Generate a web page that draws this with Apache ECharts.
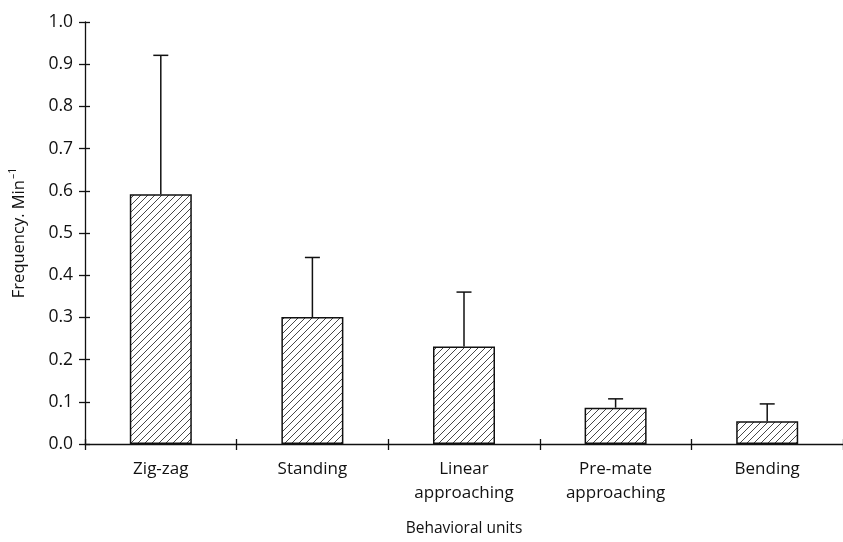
<!DOCTYPE html>
<html>
<head>
<meta charset="utf-8">
<script src="https://cdn.jsdelivr.net/npm/echarts@6/dist/echarts.min.js"></script>
<style>
html,body{margin:0;padding:0;background:#fff;}
#main{width:843px;height:542px;}
</style>
</head>
<body>
<div id="main"></div>
<script>
const categories = ['Zig-zag', 'Standing', 'Linear\napproaching', 'Pre-mate\napproaching', 'Bending'];
const means = [0.592, 0.301, 0.231, 0.086, 0.054];
const sds = [0.329, 0.141, 0.129, 0.021, 0.041];
const yTicks = [0.0, 0.1, 0.2, 0.3, 0.4, 0.5, 0.6, 0.7, 0.8, 0.9, 1.0];

function hatch() {
  const s = 7;
  const c = document.createElement('canvas');
  c.width = s; c.height = s;
  const g = c.getContext('2d');
  g.fillStyle = '#fff';
  g.fillRect(0, 0, s, s);
  g.strokeStyle = '#333';
  g.lineWidth = 0.9;
  g.beginPath();
  g.moveTo(-1, s + 1); g.lineTo(s + 1, -1);
  g.moveTo(-1, 1); g.lineTo(1, -1);
  g.moveTo(s - 1, s + 1); g.lineTo(s + 1, s - 1);
  g.stroke();
  return c;
}

const font = 'Open Sans';
const chart = echarts.init(document.getElementById('main'), null, {renderer: 'canvas'});
const axisLineStyle = {color: '#111', width: 1.3};
chart.setOption({
  animation: false,
  grid: {left: 83, right: -7, top: 22, bottom: 94.5},
  xAxis: [{
    type: 'category',
    data: categories,
    boundaryGap: true,
    axisLine: {lineStyle: axisLineStyle},
    axisTick: {show: true, length: 6, lineStyle: axisLineStyle},
    axisLabel: {color: '#111', fontFamily: font, fontSize: 17, lineHeight: 24, margin: 13, interval: 0},
    name: 'Behavioral units',
    nameLocation: 'middle',
    nameGap: 77,
    nameTextStyle: {color: '#111', fontFamily: font, fontSize: 15.5}
  }, {
    type: 'category',
    data: categories,
    position: 'bottom',
    boundaryGap: true,
    axisLine: {show: false},
    axisTick: {show: true, inside: true, length: 5, lineStyle: axisLineStyle},
    axisLabel: {show: false}
  }],
  yAxis: [{
    type: 'value',
    min: 0, max: 1, interval: 0.1,
    axisLine: {show: true, lineStyle: axisLineStyle},
    axisTick: {show: true, length: 6, lineStyle: axisLineStyle},
    splitLine: {show: false},
    axisLabel: {
      color: '#111', fontFamily: font, fontSize: 17.5, margin: 12,
      formatter: v => {
        const t = yTicks.find(x => Math.abs(x - v) < 1e-6);
        return (t === undefined ? v : t).toFixed(1);
      }
    },
    name: 'Frequency. Min{sup|–1}',
    nameLocation: 'middle',
    nameGap: 55,
    nameRotate: 90,
    nameTextStyle: {
      color: '#111', fontFamily: font, fontSize: 16.5,
      rich: {sup: {fontSize: 10.5, fontFamily: font, color: '#111', verticalAlign: 'top', padding: [0, 0, 11, 1]}}
    }
  }, {
    type: 'value',
    min: 0, max: 1, interval: 0.1,
    position: 'left',
    axisLine: {show: false},
    axisTick: {show: true, inside: true, length: 5, lineStyle: axisLineStyle},
    splitLine: {show: false},
    axisLabel: {show: false}
  }],
  series: [{
    type: 'bar',
    data: means,
    barWidth: 62,
    itemStyle: {
      color: {image: hatch(), repeat: 'repeat'},
      borderColor: '#111',
      borderWidth: 1.5
    }
  }, {
    type: 'custom',
    data: means.map((m, i) => [i, m, m + sds[i]]),
    renderItem: function (params, api) {
      const i = api.value(0);
      const p0 = api.coord([i, api.value(1)]);
      const p1 = api.coord([i, api.value(2)]);
      const cw = 7.5;
      const st = {stroke: '#111', lineWidth: 1.5, fill: null};
      return {
        type: 'group',
        children: [
          {type: 'line', shape: {x1: p0[0], y1: p0[1], x2: p1[0], y2: p1[1]}, style: st},
          {type: 'line', shape: {x1: p1[0] - cw, y1: p1[1], x2: p1[0] + cw, y2: p1[1]}, style: st}
        ]
      };
    },
    z: 3
  }]
});
</script>
</body>
</html>
